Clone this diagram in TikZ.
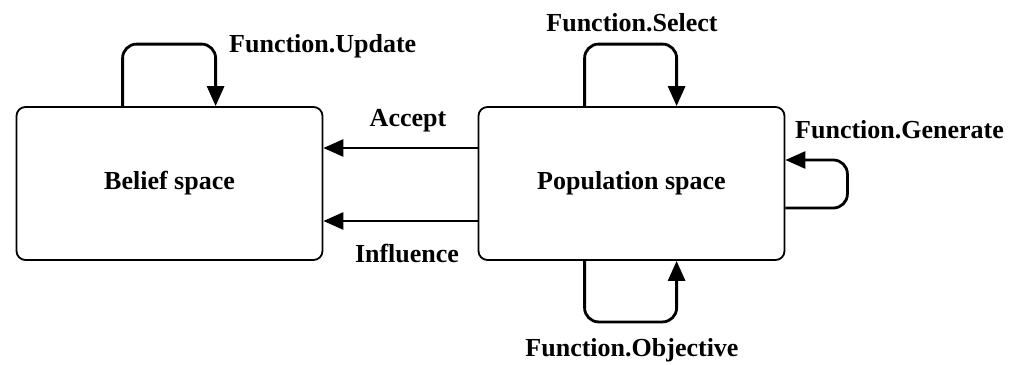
\documentclass[tikz,border=0pt]{standalone}
\usepackage{fontspec}
\setmainfont{Liberation Serif}
\usetikzlibrary{arrows.meta}
\begin{document}
\begin{tikzpicture}[x=1pt,y=-1pt,
  box/.style={draw,line width=1.8pt,rounded corners=9pt,minimum width=306pt,minimum height=153pt,inner sep=0pt,font=\fontsize{26}{30}\selectfont\bfseries},
  conn/.style={line width=2.8pt,-{Triangle[length=20pt,width=17pt]},rounded corners=14pt},
  lbl/.style={font=\fontsize{26}{30}\selectfont\bfseries,inner sep=0pt}]
\useasboundingbox (0,0) rectangle (1014,364);
\node[box] (belief) at (169.5,183.5) {Belief space};
\node[box] (pop) at (631.5,183.5) {Population space};
% labels
\node[lbl,anchor=west] (lupd) at (229,46) {Function.Update};
\node[lbl] (lsel) at (632,23) {Function.Select};
\node[lbl,anchor=west] (lgen) at (795,130) {Function.Generate};
\node[lbl] (lobj) at (632,350) {Function.Objective};
\node[lbl] (lacc) at (408,121) {Accept};
\node[lbl] (linf) at (407,254) {Influence};
% connectors between spaces
\draw[conn] ([yshift=35.5pt]pop.west) -- ([yshift=35.5pt]belief.east);
\draw[conn] ([yshift=-37.5pt]pop.west) -- ([yshift=-37.5pt]belief.east);
% self loops
\draw[conn] ([xshift=107pt]belief.north west) -- ++(0,-62) -| ([xshift=200pt]belief.north west);
\draw[conn] ([xshift=107pt]pop.north west) -- ++(0,-62) -| ([xshift=199pt]pop.north west);
\draw[conn] ([xshift=107pt]pop.south west) -- ++(0,61) -| ([xshift=199pt]pop.south west);
\draw[conn] ([yshift=-24.5pt]pop.east) -- ++(62,0) |- ([yshift=23.5pt]pop.east);
\end{tikzpicture}
\end{document}
